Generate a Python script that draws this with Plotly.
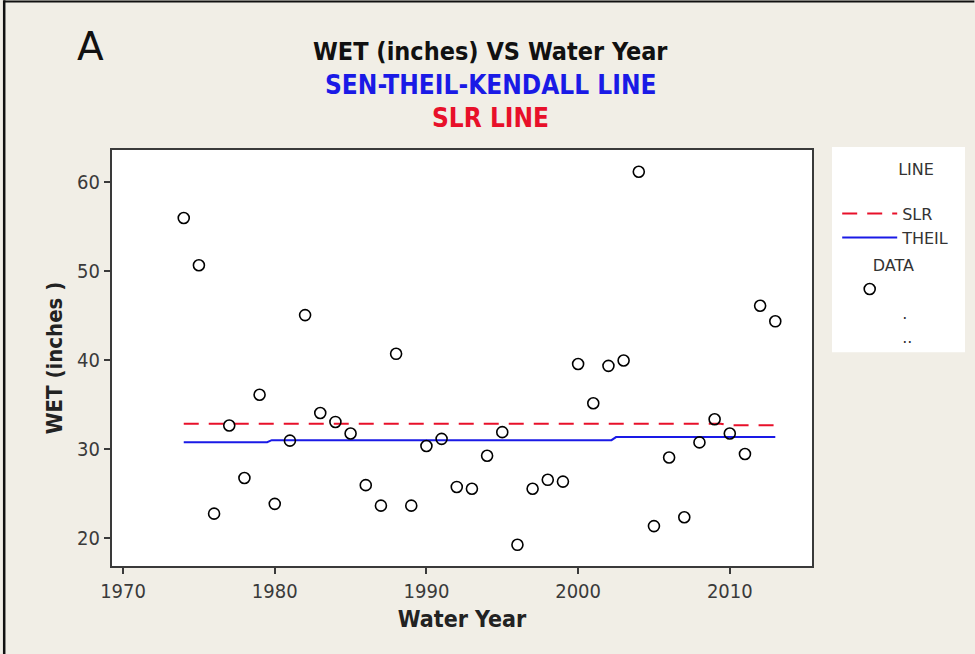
import plotly.graph_objects as go

# ---- data ----
years = list(range(1974, 2014))
wet = [55.9, 50.6, 22.7, 32.6, 26.7, 36.05, 23.8, 30.9, 45.0, 34.0,
       33.0, 31.7, 25.9, 23.6, 40.65, 23.6, 30.3, 31.1, 25.7, 25.5,
       29.2, 31.85, 19.2, 25.5, 26.5, 26.3, 39.5, 35.1, 39.3, 39.9,
       61.1, 21.3, 29.0, 22.3, 30.7, 33.3, 31.7, 29.4, 46.05, 44.3]

slr_x = [1974, 2009.4, 2009.9, 2013]
slr_y = [32.8, 32.8, 32.62, 32.62]
theil_x = [1974, 1979.5, 1979.8, 2002.2, 2002.5, 2013]
theil_y = [30.72, 30.72, 30.95, 30.95, 31.3, 31.3]

x_ticks = [1970, 1980, 1990, 2000, 2010]
y_ticks = [20, 30, 40, 50, 60]

BG = "#F1EEE6"
COND = "DejaVu Sans Condensed, DejaVu Sans, sans-serif"
FONT = "DejaVu Sans, sans-serif"
NB = "&nbsp;"

fig = go.Figure()
fig.add_trace(go.Scatter(x=slr_x, y=slr_y, mode="lines", name="SLR",
                         line=dict(color="#E8102A", width=2, dash="15px,10px"),
                         legendgroup="line",
                         legendgrouptitle_text=NB * 11 + "LINE<br> "))
fig.add_trace(go.Scatter(x=theil_x, y=theil_y, mode="lines", name="THEIL",
                         line=dict(color="#1A1AE6", width=2),
                         legendgroup="line"))
fig.add_trace(go.Scatter(x=years, y=wet, mode="markers", name=" ",
                         marker=dict(symbol="circle-open", size=11,
                                     color="black", line=dict(width=1.6)),
                         legendgroup="data",
                         legendgrouptitle_text=NB * 6 + "DATA"))
fig.add_trace(go.Scatter(x=[None], y=[None], mode="markers", name=".",
                         marker=dict(color="rgba(0,0,0,0)"), legendgroup="data"))
fig.add_trace(go.Scatter(x=[None], y=[None], mode="markers", name="..",
                         marker=dict(color="rgba(0,0,0,0)"), legendgroup="data"))

axis_common = dict(showline=True, linecolor="#3a3a3a", linewidth=2, mirror=True,
                   ticks="outside", ticklen=6, tickcolor="#3a3a3a", tickwidth=1.5,
                   showgrid=False, zeroline=False,
                   tickfont=dict(family=COND, size=20, color="#3a3a3a"))

fig.update_layout(
    width=975, height=654,
    margin=dict(l=112, r=163, t=150, b=88),
    paper_bgcolor=BG, plot_bgcolor="white",
    font=dict(family=COND, color="#222"),
    xaxis=dict(range=[1969.27, 2015.42], tickvals=x_ticks,
               title=dict(text="<b>Water Year</b>", standoff=9,
                          font=dict(family=COND, size=23, color="#222")),
               **axis_common),
    yaxis=dict(range=[16.82, 63.54], tickvals=y_ticks,
               title=dict(text="<b>WET (inches )</b>", standoff=8,
                          font=dict(family=COND, size=22, color="#222")),
               **axis_common),
    showlegend=True,
    legend=dict(x=1.036, y=0.995, xanchor="left", yanchor="top",
                bgcolor="rgba(0,0,0,0)", borderwidth=0, itemwidth=55,
                font=dict(family=FONT, size=16, color="#333"),
                grouptitlefont=dict(family=FONT, size=16, color="#333"),
                tracegroupgap=4, traceorder="grouped"),
    shapes=[
        dict(type="rect", xref="paper", yref="paper", x0=1.0286, x1=1.2186,
             y0=0.514, y1=1.007, fillcolor="white", line=dict(width=0),
             layer="below"),
        dict(type="line", xref="paper", yref="paper", x0=-0.154, x1=-0.154,
             y0=-0.212, y1=1.36, line=dict(color="#111", width=2.5)),
        dict(type="line", xref="paper", yref="paper", x0=-0.154, x1=1.232,
             y0=1.357, y1=1.357, line=dict(color="#111", width=2)),
    ],
    annotations=[
        dict(text="A", x=-0.0314, y=1.2476, xref="paper", yref="paper",
             xanchor="center", yanchor="middle", showarrow=False,
             font=dict(family=FONT, size=39, color="#111")),
        dict(text="<b>WET (inches) VS Water Year</b>", x=0.5414, y=1.2356,
             xref="paper", yref="paper", xanchor="center", yanchor="middle",
             showarrow=False, font=dict(family=COND, size=25, color="#111")),
        dict(text="<b>SEN-THEIL-KENDALL LINE</b>", x=0.5414, y=1.156,
             xref="paper", yref="paper", xanchor="center", yanchor="middle",
             showarrow=False, font=dict(family=COND, size=26, color="#1A1AE6")),
        dict(text="<b>SLR LINE</b>", x=0.5414, y=1.077,
             xref="paper", yref="paper", xanchor="center", yanchor="middle",
             showarrow=False, font=dict(family=COND, size=26, color="#E8102A")),
    ],
)

fig.write_html("out.html", config={"displayModeBar": False},
               post_script="document.body.style.margin='0';")
